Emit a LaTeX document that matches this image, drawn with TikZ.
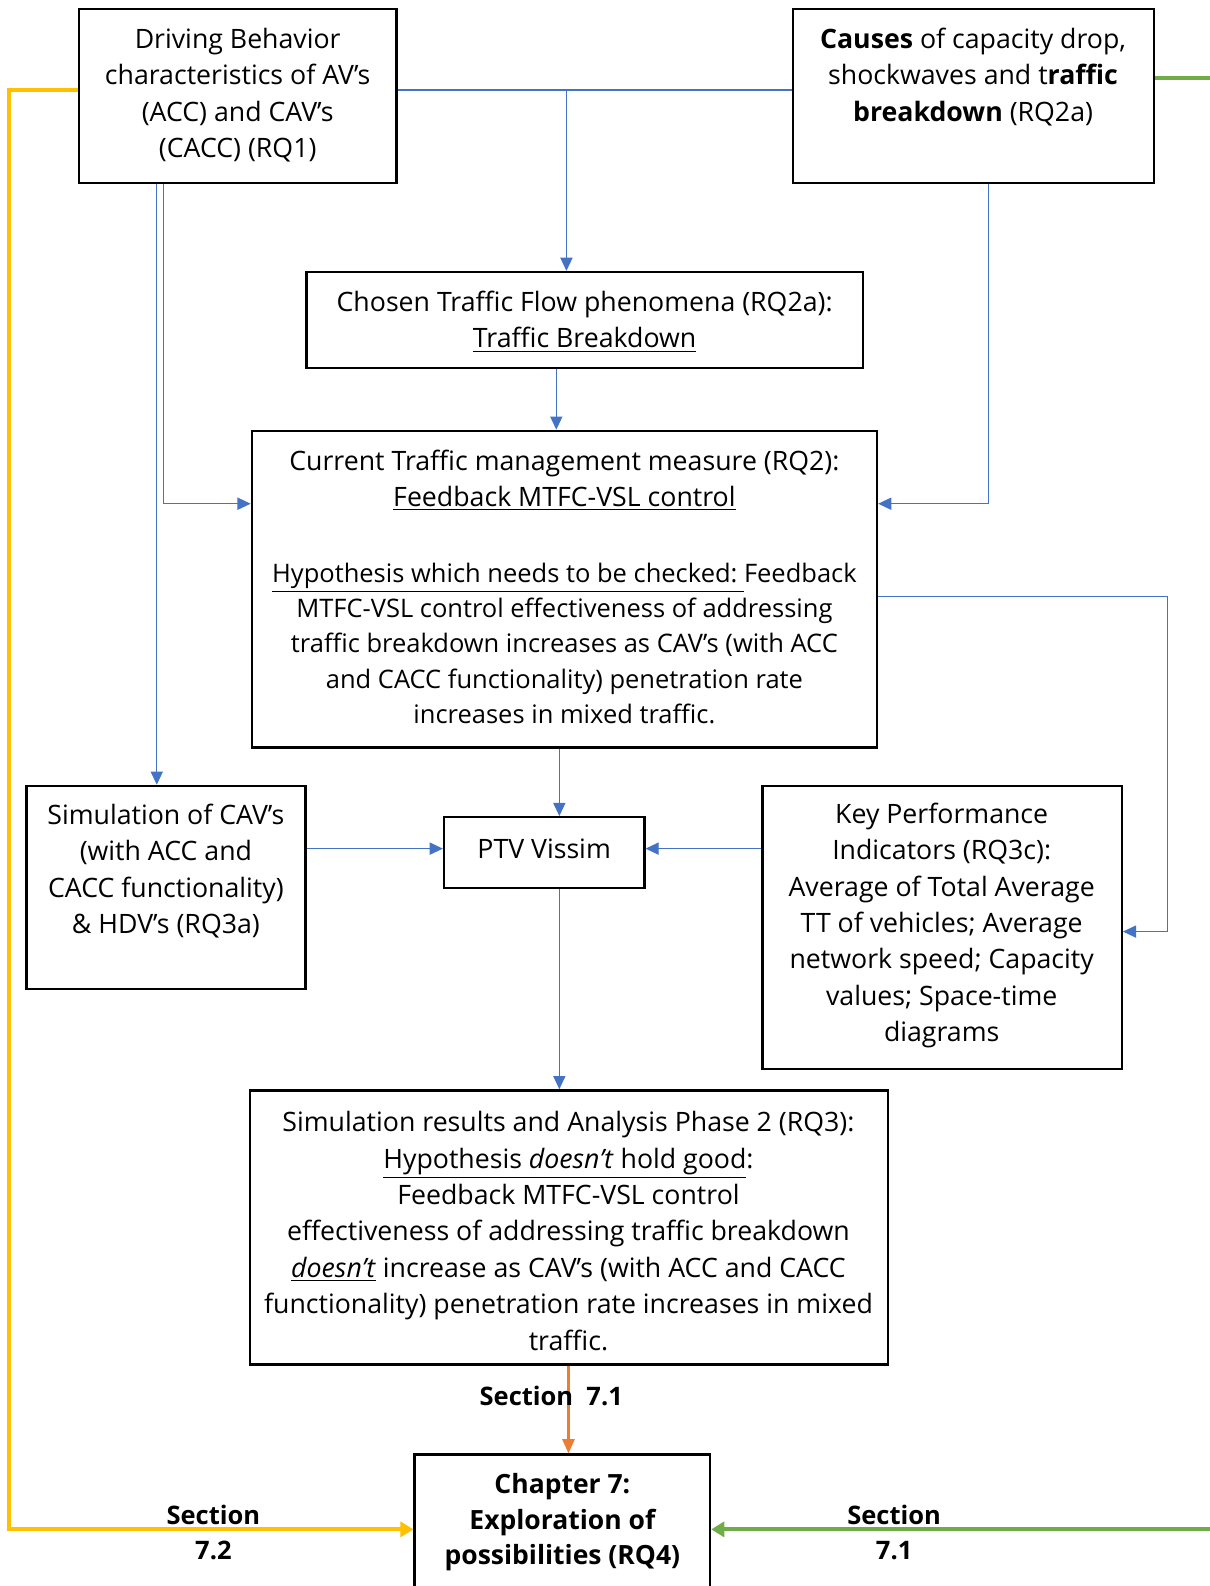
\documentclass[tikz,border=0pt]{standalone}
\usepackage{fontspec}
\setmainfont{Open Sans}
\usetikzlibrary{arrows.meta}
\definecolor{cblue}{HTML}{4472C4}
\definecolor{corange}{HTML}{ED7D31}
\definecolor{cyellow}{HTML}{FFC000}
\definecolor{cgreen}{HTML}{70AD47}
\tikzset{
  box/.style={draw=black, line width=1.2pt, rectangle, inner sep=0pt},
  txt/.style={align=center, inner sep=0pt, font=\fontsize{13.2}{18}\selectfont},
  btxt/.style={align=center, inner sep=0pt, font=\fontsize{13.1}{17.5}\selectfont\bfseries},
  stxt/.style={align=center, inner sep=0pt, font=\fontsize{12.6}{17}\selectfont\bfseries},
  blu/.style={draw=cblue, line width=0.6pt},
  barr/.style={-{Triangle[width=6pt,length=6.5pt]}},
  yel/.style={draw=cyellow, line width=2pt, -{Triangle[width=7.5pt,length=6.5pt]}},
  grn/.style={draw=cgreen, line width=2pt},
  org/.style={draw=corange, line width=1.2pt, -{Triangle[width=6pt,length=7pt]}},
}
\begin{document}
\begin{tikzpicture}[x=0.5pt,y=-0.5pt]
\useasboundingbox[fill=white] (0,0) rectangle (1196,1568);

% boxes
\node[box, minimum width=157pt, minimum height=86pt] (b1) at (235,95) {};
\node[box, minimum width=178.5pt, minimum height=86pt] (b2) at (962.5,95) {};
\node[box, minimum width=275pt, minimum height=47.5pt] (b3) at (578,316.5) {};
\node[box, minimum width=309pt, minimum height=156.5pt] (b4) at (558,582.5) {};
\node[box, minimum width=138pt, minimum height=100.5pt] (b5) at (164,877.5) {};
\node[box, minimum width=99pt, minimum height=35pt] (ptv) at (538,843) {};
\node[box, minimum width=177.5pt, minimum height=140pt] (b7) at (931.5,917) {};
\node[box, minimum width=315.5pt, minimum height=135.5pt] (b8) at (562.5,1213.5) {};
\node[box, minimum width=146pt, minimum height=66pt] (b9) at (556,1504) {};

% texts
\node[txt] (t1) at (235,94) {Driving Behavior\\characteristics of AV’s\\(ACC) and CAV’s\\(CACC) (RQ1)};
\node[txt] (t2) at (962,76) {\textbf{Causes} of capacity drop,\\shockwaves and t\textbf{raffic}\\\textbf{breakdown} (RQ2a)};
\node[txt] (t3) at (578,318) {Chosen Traffic Flow phenomena (RQ2a):\\\underline{Traffic Breakdown}};
\node[txt] (t4a) at (558,475) {Current Traffic management measure (RQ2):\\\underline{Feedback MTFC-VSL control}};
\node[txt, font=\fontsize{12.6}{17.5}\selectfont] (t4b) at (558,636) {\underline{Hypothesis which needs to be checked:\ }Feedback\\MTFC-VSL control effectiveness of addressing\\traffic breakdown increases as CAV’s (with ACC\\and CACC functionality) penetration rate\\increases in mixed traffic.};
\node[txt] (t5) at (164,861) {Simulation of CAV’s\\(with ACC and\\CACC functionality)\\\& HDV’s (RQ3a)};
\node[txt] (tptv) at (538,839) {PTV Vissim};
\node[txt] (t7) at (931,915) {Key Performance\\Indicators (RQ3c):\\Average of Total Average\\TT of vehicles; Average\\network speed; Capacity\\values; Space-time\\diagrams};
\node[txt] (t8) at (562,1217) {Simulation results and Analysis Phase 2 (RQ3):\\\underline{Hypothesis \textit{doesn’t} hold good}:\\Feedback MTFC-VSL control\\effectiveness of addressing traffic breakdown\\\underline{\textit{doesn’t}} increase as CAV’s (with ACC and CACC\\functionality) penetration rate increases in mixed\\traffic.};
\node[btxt] (t9) at (556,1505) {Chapter 7:\\Exploration of\\possibilities (RQ4)};

% blue connectors
\coordinate (jt) at (560,89);
\draw[blu] (b1.east |- jt) -- (b2.west |- jt);
\draw[blu,barr] (jt) -- (b3.north -| jt);
\coordinate (c1) at (162,498);
\draw[blu,barr] (b1.south -| c1) |- (b4.west |- c1);
\coordinate (c2) at (155,0);
\draw[blu,barr] (b1.south -| c2) -- (b5.north -| c2);
\coordinate (c3) at (977,498);
\draw[blu,barr] (b2.south -| c3) |- (b4.east |- c3);
\coordinate (c4) at (550,0);
\draw[blu,barr] (b3.south -| c4) -- (b4.north -| c4);
\coordinate (c5) at (553,0);
\draw[blu,barr] (b4.south -| c5) -- (ptv.north -| c5);
\draw[blu,barr] (ptv.south -| c5) -- (b8.north -| c5);
\coordinate (c6) at (1154,590);
\coordinate (c7) at (1154,921);
\draw[blu,barr] (b4.east |- c6) -- (c6) -- (c7) -- (b7.east |- c7);
\coordinate (c8) at (0,839);
\draw[blu,barr] (b5.east |- c8) -- (ptv.west |- c8);
\draw[blu,barr] (b7.west |- c8) -- (ptv.east |- c8);

% orange
\coordinate (c9) at (562,0);
\draw[org] (b8.south -| c9) -- (b9.north -| c9);
\node[stxt] (s1) at (545,1380) {Section\ \ 7.1};

% yellow
\coordinate (y1) at (9,89);
\coordinate (y2) at (9,1512);
\draw[yel] (b1.west |- y1) -- (y1) -- (y2) -- (b9.west |- y2);
\node[stxt] (s2) at (211,1515) {Section\\7.2};

% green
\coordinate (g1) at (1196,77);
\coordinate (g2) at (1196,1512);
\draw[grn] (b2.east |- g1) -- (g1);
\draw[grn,-{Triangle[width=7.5pt,length=6.5pt]}] (g2) -- (b9.east |- g2);
\node[stxt] (s3) at (884,1515) {Section\\7.1};
\end{tikzpicture}
\end{document}
